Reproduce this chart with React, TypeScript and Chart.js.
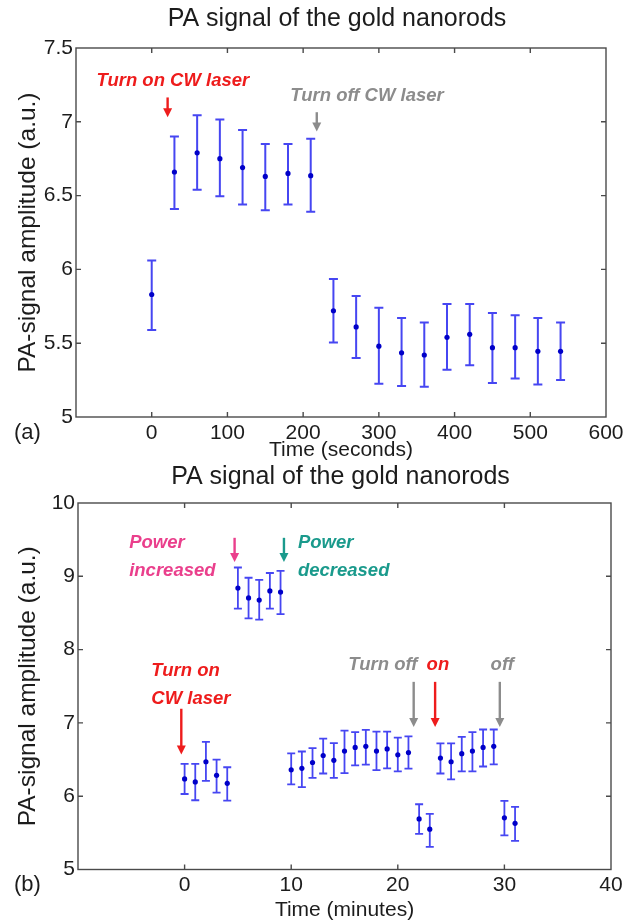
import React, { useEffect, useRef } from 'react';
import { Chart, registerables } from 'chart.js';

Chart.register(...registerables);

const FONT = '"Liberation Sans", Arial, Helvetica, sans-serif';
const TEXT = '#1c1c1c';
const RED = '#ee1c1c';
const GRAY = '#8c8c8c';
const PINK = '#ea3f8c';
const TEAL = '#1a9a8c';

const TITLE = 'PA signal of the gold nanorods';
const Y_LABEL = 'PA-signal amplitude (a.u.)';

// ---------- panel (a) ----------
const timeSeconds = [0, 30, 60, 90, 120, 150, 180, 210, 240, 270, 300, 330, 360, 390, 420, 450, 480, 510, 540];
const meanA = [5.83, 6.66, 6.79, 6.75, 6.69, 6.63, 6.65, 6.635, 5.72, 5.61, 5.48, 5.435, 5.42, 5.54, 5.56, 5.47, 5.47, 5.445, 5.445];
const upperA = [6.06, 6.9, 7.045, 7.015, 6.945, 6.85, 6.85, 6.885, 5.935, 5.82, 5.74, 5.67, 5.64, 5.765, 5.765, 5.705, 5.69, 5.67, 5.64];
const lowerA = [5.59, 6.41, 6.54, 6.495, 6.44, 6.4, 6.44, 6.39, 5.505, 5.4, 5.225, 5.21, 5.205, 5.32, 5.35, 5.23, 5.26, 5.22, 5.25];
const xTicksA = [0, 100, 200, 300, 400, 500, 600];
const yTicksA = [5, 5.5, 6, 6.5, 7, 7.5];

// ---------- panel (b) ----------
const timeMinutes = [0, 1, 2, 3, 4, 5, 6, 7, 8, 9, 10, 11, 12, 13, 14, 15, 16, 17, 18, 19, 20, 21, 22, 23, 24, 25, 26, 27, 28, 29, 30, 31];
const meanB = [6.235, 6.195, 6.47, 6.285, 6.175, 8.84, 8.705, 8.675, 8.8, 8.785, 6.36, 6.38, 6.46, 6.555, 6.49, 6.615, 6.665, 6.68, 6.615, 6.645, 6.565, 6.595, 5.69, 5.55, 6.52, 6.47, 6.58, 6.615, 6.665, 6.68, 5.705, 5.63];
const upperB = [6.44, 6.44, 6.74, 6.5, 6.395, 9.12, 8.98, 8.95, 9.045, 9.075, 6.585, 6.61, 6.655, 6.785, 6.725, 6.895, 6.875, 6.905, 6.88, 6.88, 6.8, 6.815, 5.89, 5.76, 6.72, 6.72, 6.81, 6.875, 6.91, 6.91, 5.935, 5.855];
const lowerB = [6.03, 5.945, 6.21, 6.05, 5.94, 8.56, 8.425, 8.41, 8.56, 8.485, 6.16, 6.125, 6.25, 6.31, 6.25, 6.315, 6.42, 6.43, 6.355, 6.38, 6.34, 6.375, 5.485, 5.31, 6.31, 6.23, 6.34, 6.34, 6.405, 6.435, 5.465, 5.39];
const xTicksB = [0, 10, 20, 30, 40];
const yTicksB = [5, 6, 7, 8, 9, 10];

type Note = { text: string; x: number; y: number; color: string; align: CanvasTextAlign };
type Arrow = { x: number; from: number; to: number; color: string };

const notesA: Note[] = [
  { text: 'Turn on CW laser', x: -73, y: 7.275, color: RED, align: 'left' },
  { text: 'Turn off CW laser', x: 183, y: 7.174, color: GRAY, align: 'left' },
];
const arrowsA: Arrow[] = [
  { x: 21, from: 7.165, to: 7.03, color: RED },
  { x: 218, from: 7.065, to: 6.935, color: GRAY },
];

const notesB: Note[] = [
  { text: 'Power', x: -5.2, y: 9.457, color: PINK, align: 'left' },
  { text: 'increased', x: -5.2, y: 9.072, color: PINK, align: 'left' },
  { text: 'Power', x: 10.63, y: 9.457, color: TEAL, align: 'left' },
  { text: 'decreased', x: 10.63, y: 9.072, color: TEAL, align: 'left' },
  { text: 'Turn on', x: -3.12, y: 7.704, color: RED, align: 'left' },
  { text: 'CW laser', x: -3.12, y: 7.323, color: RED, align: 'left' },
  { text: 'Turn off', x: 21.85, y: 7.79, color: GRAY, align: 'right' },
  { text: 'on', x: 23.76, y: 7.79, color: RED, align: 'center' },
  { text: 'off', x: 29.8, y: 7.79, color: GRAY, align: 'center' },
];
const arrowsB: Arrow[] = [
  { x: 4.69, from: 9.525, to: 9.195, color: PINK },
  { x: 9.32, from: 9.525, to: 9.195, color: TEAL },
  { x: -0.31, from: 7.193, to: 6.57, color: RED },
  { x: 21.49, from: 7.56, to: 6.944, color: GRAY },
  { x: 23.5, from: 7.56, to: 6.944, color: RED },
  { x: 29.57, from: 7.56, to: 6.944, color: GRAY },
];

const errorBarPlugin = {
  id: 'errorBars',
  beforeDatasetsDraw(chart: any, _args: any, opts: any) {
    const { ctx } = chart;
    const xs = chart.scales.x;
    const ys = chart.scales.y;
    ctx.save();
    ctx.strokeStyle = opts.color;
    ctx.lineWidth = opts.width;
    ctx.lineCap = 'butt';
    chart.data.datasets.forEach((ds: any) => {
      ds.data.forEach((p: any) => {
        const px = xs.getPixelForValue(p.x);
        const top = ys.getPixelForValue(p.hi);
        const bot = ys.getPixelForValue(p.lo);
        ctx.beginPath();
        ctx.moveTo(px, top);
        ctx.lineTo(px, bot);
        ctx.moveTo(px - opts.cap, top);
        ctx.lineTo(px + opts.cap, top);
        ctx.moveTo(px - opts.cap, bot);
        ctx.lineTo(px + opts.cap, bot);
        ctx.stroke();
      });
    });
    ctx.restore();
  },
};

const framePlugin = {
  id: 'frame',
  afterDraw(chart: any, _args: any, opts: any) {
    const { ctx, chartArea: a } = chart;
    const xs = chart.scales.x;
    const ys = chart.scales.y;
    ctx.save();
    ctx.strokeStyle = '#4a4a4a';
    ctx.lineWidth = 1.4;
    ctx.strokeRect(a.left, a.top, a.right - a.left, a.bottom - a.top);
    const t = 5;
    ctx.beginPath();
    xs.ticks.forEach((tk: any) => {
      const px = xs.getPixelForValue(tk.value);
      if (px <= a.left + 1 || px >= a.right - 1) return;
      ctx.moveTo(px, a.bottom);
      ctx.lineTo(px, a.bottom - t);
      ctx.moveTo(px, a.top);
      ctx.lineTo(px, a.top + t);
    });
    ys.ticks.forEach((tk: any) => {
      const py = ys.getPixelForValue(tk.value);
      if (py <= a.top + 1 || py >= a.bottom - 1) return;
      ctx.moveTo(a.left, py);
      ctx.lineTo(a.left + t, py);
      ctx.moveTo(a.right, py);
      ctx.lineTo(a.right - t, py);
    });
    ctx.stroke();
    ctx.fillStyle = TEXT;
    ctx.textBaseline = 'middle';
    ctx.font = `22px ${FONT}`;
    ctx.textAlign = 'left';
    ctx.fillText(opts.panel, 14, a.bottom + opts.panelDy);
    ctx.font = `25px ${FONT}`;
    ctx.textAlign = 'center';
    ctx.fillText(opts.title, (a.left + a.right) / 2 - 4, opts.titleY);
    ctx.restore();
  },
};

const notesPlugin = {
  id: 'notes',
  afterDatasetsDraw(chart: any, _args: any, opts: any) {
    const { ctx } = chart;
    const xs = chart.scales.x;
    const ys = chart.scales.y;
    ctx.save();
    (opts.arrows as Arrow[]).forEach((ar) => {
      const px = xs.getPixelForValue(ar.x);
      const y1 = ys.getPixelForValue(ar.from);
      const y2 = ys.getPixelForValue(ar.to);
      const head = 9;
      ctx.strokeStyle = ar.color;
      ctx.fillStyle = ar.color;
      ctx.lineWidth = 2.4;
      ctx.beginPath();
      ctx.moveTo(px, y1);
      ctx.lineTo(px, y2 - head + 1);
      ctx.stroke();
      ctx.beginPath();
      ctx.moveTo(px - 4.5, y2 - head);
      ctx.lineTo(px + 4.5, y2 - head);
      ctx.lineTo(px, y2);
      ctx.closePath();
      ctx.fill();
    });
    ctx.font = `italic bold 18.5px ${FONT}`;
    ctx.textBaseline = 'middle';
    (opts.notes as Note[]).forEach((n) => {
      ctx.fillStyle = n.color;
      ctx.textAlign = n.align;
      ctx.fillText(n.text, xs.getPixelForValue(n.x), ys.getPixelForValue(n.y));
    });
    ctx.restore();
  },
};

type PanelCfg = {
  time: number[];
  mean: number[];
  upper: number[];
  lower: number[];
  xTicks: number[];
  yTicks: number[];
  xMin: number;
  xMax: number;
  xLabel: string;
  notes: Note[];
  arrows: Arrow[];
  panel: string;
  panelDy: number;
  height: number;
  padRight: number;
  padTop: number;
  titleY: number;
  yWidth: number;
  xHeight: number;
  tickPad: number;
  xTitlePad: number;
  cap: number;
  barWidth: number;
};

function buildConfig(c: PanelCfg): any {
  const points = c.time.map((t, i) => ({ x: t, y: c.mean[i], hi: c.upper[i], lo: c.lower[i] }));
  const tickFont = { family: FONT, size: 21, lineHeight: 1 };
  return {
    type: 'scatter',
    data: {
      datasets: [
        {
          data: points,
          pointRadius: 2.6,
          pointBackgroundColor: '#0000c8',
          pointBorderWidth: 0,
          showLine: false,
        },
      ],
    },
    plugins: [errorBarPlugin, framePlugin, notesPlugin],
    options: {
      animation: false,
      responsive: false,
      devicePixelRatio: 1,
      layout: { autoPadding: false, padding: { left: 0, right: c.padRight, top: c.padTop, bottom: 0 } },
      plugins: {
        legend: { display: false },
        tooltip: { enabled: false },
        title: { display: false },
        errorBars: { color: '#4646f2', width: c.barWidth, cap: c.cap },
        frame: { panel: c.panel, panelDy: c.panelDy, title: TITLE, titleY: c.titleY },
        notes: { notes: c.notes, arrows: c.arrows },
      },
      scales: {
        x: {
          type: 'linear',
          min: c.xMin,
          max: c.xMax,
          afterBuildTicks: (s: any) => {
            s.ticks = c.xTicks.map((v) => ({ value: v }));
          },
          afterFit: (s: any) => {
            s.height = c.xHeight;
            s.paddingLeft = 0;
            s.paddingRight = 0;
          },
          ticks: {
            color: TEXT,
            font: tickFont,
            padding: c.tickPad,
            maxRotation: 0,
            autoSkip: false,
            callback: (v: number) => String(v),
          },
          grid: { display: false, drawTicks: false },
          border: { display: false },
          title: {
            display: true,
            text: c.xLabel,
            color: TEXT,
            font: { family: FONT, size: 21, lineHeight: 1 },
            padding: { top: 0, bottom: c.xTitlePad },
          },
        },
        y: {
          type: 'linear',
          min: c.yTicks[0],
          max: c.yTicks[c.yTicks.length - 1],
          afterBuildTicks: (s: any) => {
            s.ticks = c.yTicks.map((v) => ({ value: v }));
          },
          afterFit: (s: any) => {
            s.width = c.yWidth;
            s.paddingTop = 0;
            s.paddingBottom = 0;
          },
          ticks: {
            color: TEXT,
            font: tickFont,
            padding: 3,
            callback: (v: number) => String(v),
          },
          grid: { display: false, drawTicks: false },
          border: { display: false },
          title: {
            display: true,
            text: Y_LABEL,
            color: TEXT,
            font: { family: FONT, size: 24.5, lineHeight: 1 },
            padding: { top: 16, bottom: 0 },
          },
        },
      },
    },
  };
}

const panelA: PanelCfg = {
  time: timeSeconds,
  mean: meanA,
  upper: upperA,
  lower: lowerA,
  xTicks: xTicksA,
  yTicks: yTicksA,
  xMin: -100,
  xMax: 600,
  xLabel: 'Time (seconds)',
  notes: notesA,
  arrows: arrowsA,
  panel: '(a)',
  panelDy: 16,
  height: 460,
  padRight: 19,
  padTop: 48,
  titleY: 19,
  yWidth: 76,
  xHeight: 43,
  tickPad: 5.5,
  xTitlePad: -0.5,
  cap: 4.5,
  barWidth: 2,
};

const panelB: PanelCfg = {
  time: timeMinutes,
  mean: meanB,
  upper: upperB,
  lower: lowerB,
  xTicks: xTicksB,
  yTicks: yTicksB,
  xMin: -10,
  xMax: 40,
  xLabel: 'Time (minutes)',
  notes: notesB,
  arrows: arrowsB,
  panel: '(b)',
  panelDy: 15.5,
  height: 462,
  padRight: 14,
  padTop: 43,
  titleY: 17,
  yWidth: 78,
  xHeight: 52.5,
  tickPad: 5,
  xTitlePad: 1.5,
  cap: 4,
  barWidth: 1.8,
};

function Panel({ cfg }: { cfg: PanelCfg }) {
  const ref = useRef<HTMLCanvasElement | null>(null);
  useEffect(() => {
    if (!ref.current) return;
    const chart = new Chart(ref.current, buildConfig(cfg));
    return () => chart.destroy();
  }, [cfg]);
  return (
    <div style={{ width: 625, height: cfg.height, position: 'relative' }}>
      <canvas ref={ref} width={625} height={cfg.height} style={{ display: 'block' }} />
    </div>
  );
}

export default function App() {
  return (
    <div style={{ position: 'absolute', left: 0, top: 0, width: 625, height: 922, background: '#ffffff' }}>
      <Panel cfg={panelA} />
      <Panel cfg={panelB} />
    </div>
  );
}
